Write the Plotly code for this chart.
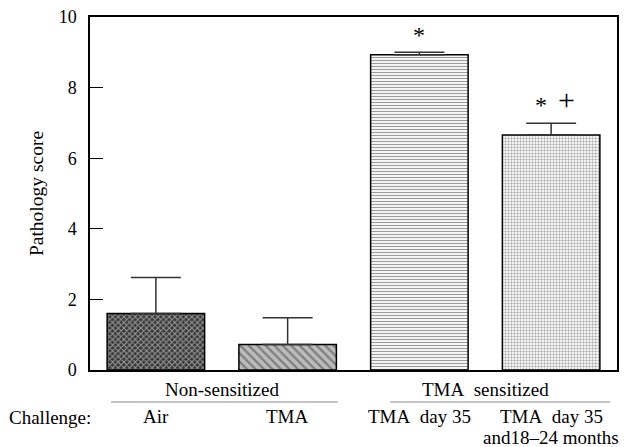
import plotly.graph_objects as go

categories = ["Air", "TMA", "TMA\u00a0 day 35", "TMA\u00a0 day 35<br>and18–24 months"]
scores = [1.6, 0.72, 8.93, 6.66]
errors = [1.02, 0.76, 0.07, 0.33]
y_ticks = [0, 2, 4, 6, 8, 10]
groups = ["Non-sensitized", "TMA\u00a0 sensitized"]
group_spans = [(0, 1), (2, 3)]
pattern_shapes = ["x", "\\", "-", "+"]
pattern_fg = ["#000000", "#333333", "#808080", "#6c6c6c"]
pattern_bg = ["#363636", "#bdbdbd", "#f4f4f4", "#f4f4f4"]
pattern_size = [4, 6, 3, 3]
pattern_solidity = [0.45, 0.4, 0.35, 0.3]

FONT = "Liberation Serif, Times New Roman, serif"
LBL = 19
xs = list(range(len(categories)))

# page body has an 8px margin; compensate so the plot area lands where the reference has it
OFF = 8

fig = go.Figure()
fig.add_trace(go.Bar(
    x=xs, y=scores, width=0.74,
    marker=dict(
        color=pattern_bg,
        line=dict(color="black", width=1.5),
        pattern=dict(shape=pattern_shapes, fgcolor=pattern_fg,
                     size=pattern_size, solidity=pattern_solidity, fillmode="overlay"),
    ),
    error_y=dict(type="data", symmetric=False, array=errors, arrayminus=[0] * 4,
                 color="#333333", thickness=1.5, width=25),
    showlegend=False,
))

# significance markers
fig.add_annotation(x=2, y=scores[2] + errors[2], yshift=17, text="*", showarrow=False,
                   yanchor="middle", font=dict(family=FONT, size=24, color="black"))
fig.add_annotation(x=3, y=scores[3] + errors[3], xshift=-10.5, yshift=18, text="*", showarrow=False,
                   yanchor="middle", font=dict(family=FONT, size=24, color="black"))
fig.add_annotation(x=3, y=scores[3] + errors[3], xshift=15.5, yshift=24, text="+", showarrow=False,
                   yanchor="middle", font=dict(family=FONT, size=30, color="black"))

# category labels below axis (each line placed separately)
for i, c in enumerate(categories):
    for j, line in enumerate(c.split("<br>")):
        fig.add_annotation(x=i, y=0, xref="x", yref="y", yanchor="middle",
                           yshift=-46 - 21.5 * j, text=line, showarrow=False,
                           font=dict(family=FONT, size=LBL, color="black"))
fig.add_annotation(x=0, y=0, xref="paper", yref="y", xanchor="right", yanchor="middle",
                   xshift=3, yshift=-47, text="Challenge:", showarrow=False,
                   font=dict(family=FONT, size=LBL, color="black"))

# group labels and lines
line_ext = [(-0.34, 1.38), (1.78, 3.45)]
for g, (a, b), (l0, l1) in zip(groups, group_spans, line_ext):
    fig.add_annotation(x=(a + b) / 2, y=0, yanchor="middle", yshift=-19, text=g, showarrow=False,
                       font=dict(family=FONT, size=LBL, color="black"))
    fig.add_shape(type="line", xref="x", yref="paper", x0=l0, x1=l1,
                  y0=-32 / 353, y1=-32 / 353, line=dict(color="#888888", width=1.2))

fig.update_xaxes(range=[-0.5, 3.5], showticklabels=False, ticks="", showgrid=False,
                 zeroline=False, showline=True, linecolor="black", linewidth=1.5, mirror=True,
                 automargin=False)
fig.update_yaxes(range=[0, 10], tickvals=y_ticks, ticktext=[str(v) for v in y_ticks],
                 ticks="inside", ticklen=13, tickwidth=1.2, tickcolor="black",
                 showgrid=False, zeroline=False, showline=True, linecolor="black", linewidth=1.5,
                 mirror=True, ticklabelstandoff=8, automargin=False, ticklabeloverflow="allow",
                 tickfont=dict(family=FONT, size=18, color="black"),
                 title=dict(text="Pathology score", font=dict(family=FONT, size=19.5, color="black"),
                            standoff=10))

fig.update_layout(
    width=633, height=447,
    margin=dict(l=90 - OFF, r=16 + OFF, t=17 - OFF, b=77 + OFF, pad=0),
    plot_bgcolor="white", paper_bgcolor="white",
    font=dict(family=FONT, color="black"),
)

fig.write_html("out.html")
